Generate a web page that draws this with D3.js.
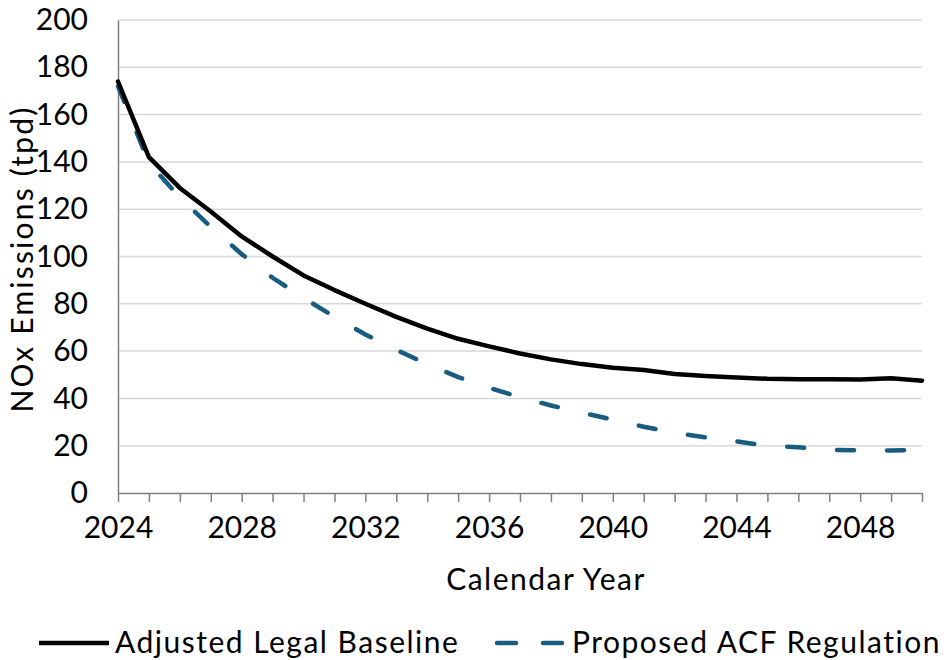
<!DOCTYPE html>
<html>
<head>
<meta charset="utf-8">
<script src="https://cdn.jsdelivr.net/npm/d3@7"></script>
<style>
  html, body { margin: 0; padding: 0; background: #fff; }
  svg { display: block; font-family: Lato, "Open Sans", sans-serif; }
</style>
</head>
<body>
<svg id="chart" width="948" height="660"></svg>
<script>
// Calendar years (categories)
const years = [2024, 2025, 2026, 2027, 2028, 2029, 2030, 2031, 2032, 2033, 2034, 2035, 2036,
  2037, 2038, 2039, 2040, 2041, 2042, 2043, 2044, 2045, 2046, 2047, 2048, 2049, 2050];

// NOx emissions, tons per day
const adjustedLegalBaseline = [174, 142, 129, 119, 108.5, 100, 92, 85.8, 80, 74.5, 69.5, 65.2, 62,
  59, 56.5, 54.5, 53, 52, 50.3, 49.5, 48.8, 48.3, 48.1, 48.1, 48, 48.5, 47.5];
const proposedACFRegulation = [172, 139.5, 125, 112.5, 101, 91, 82.5, 74.5, 67, 60.5, 54.5, 49, 44.5,
  40.5, 37, 34, 31, 28, 25.5, 23.5, 21.8, 20, 19.3, 18.3, 18, 18, 18.3];

// Axis labels
const yTicks = [0, 20, 40, 60, 80, 100, 120, 140, 160, 180, 200];
const xTickLabels = [2024, 2028, 2032, 2036, 2040, 2044, 2048];

const seriesNames = ["Adjusted Legal Baseline", "Proposed ACF Regulation"];

const svg = d3.select("#chart");
const plot = { left: 118, right: 922, top: 20, bottom: 493 };

const x = d3.scaleLinear().domain([2024, 2050]).range([plot.left, plot.right]);
const y = d3.scaleLinear().domain([0, 200]).range([plot.bottom, plot.top]);

// Horizontal gridlines
svg.append("g")
  .selectAll("line")
  .data(yTicks.filter(d => d > 0))
  .join("line")
  .attr("x1", plot.left).attr("x2", plot.right)
  .attr("y1", d => y(d)).attr("y2", d => y(d))
  .attr("stroke", "#d9d9d9")
  .attr("stroke-width", 1.5);

// Y axis
const yAxis = svg.append("g")
  .attr("transform", `translate(${plot.left},0)`)
  .call(d3.axisLeft(y).tickValues(yTicks).tickSize(0).tickPadding(30));
yAxis.select(".domain").attr("stroke", "#7f7f7f").attr("stroke-width", 1.5);
yAxis.selectAll("text")
  .attr("font-size", 30).attr("fill", "#000")
  .attr("font-family", "Lato, sans-serif");

// X axis: a tick mark every year, a label every fourth year
const xAxis = svg.append("g")
  .attr("transform", `translate(0,${plot.bottom})`)
  .call(d3.axisBottom(x)
    .tickValues(years)
    .tickSize(9)
    .tickSizeOuter(0)
    .tickPadding(15)
    .tickFormat(d => xTickLabels.includes(d) ? String(d) : ""));
xAxis.select(".domain").attr("stroke", "#7f7f7f").attr("stroke-width", 1.5);
xAxis.selectAll(".tick line").attr("stroke", "#7f7f7f").attr("stroke-width", 1.5);
xAxis.selectAll("text")
  .attr("font-size", 30).attr("fill", "#000")
  .attr("font-family", "Lato, sans-serif");

// Axis titles
svg.append("text")
  .attr("x", 546).attr("y", 590)
  .attr("text-anchor", "middle")
  .attr("font-size", 30).attr("fill", "#000")
  .attr("letter-spacing", 1.5)
  .text("Calendar Year");

svg.append("text")
  .attr("transform", "translate(33,259) rotate(-90)")
  .attr("text-anchor", "middle")
  .attr("font-size", 30).attr("fill", "#000")
  .attr("letter-spacing", 2.2)
  .text("NOx Emissions (tpd)");

// Series lines
const line = d3.line()
  .x((d, i) => x(years[i]))
  .y(d => y(d));

svg.append("path")
  .datum(proposedACFRegulation)
  .attr("d", line)
  .attr("fill", "none")
  .attr("stroke", "#185d80")
  .attr("stroke-width", 4.5)
  .attr("stroke-linecap", "round")
  .attr("stroke-dasharray", "17,33");

svg.append("path")
  .datum(adjustedLegalBaseline)
  .attr("d", line)
  .attr("fill", "none")
  .attr("stroke", "#000")
  .attr("stroke-width", 4.5)
  .attr("stroke-linejoin", "round")
  .attr("stroke-linecap", "round");

// Legend
const legend = svg.append("g");
const legendY = 643;

legend.append("line")
  .attr("x1", 39).attr("x2", 109)
  .attr("y1", legendY).attr("y2", legendY)
  .attr("stroke", "#000").attr("stroke-width", 4.5);
legend.append("text")
  .attr("x", 115).attr("y", 653)
  .attr("font-size", 30).attr("fill", "#000")
  .attr("letter-spacing", 1.5)
  .text(seriesNames[0]);

legend.append("line")
  .attr("x1", 497).attr("x2", 564)
  .attr("y1", legendY).attr("y2", legendY)
  .attr("stroke", "#185d80").attr("stroke-width", 4.5)
  .attr("stroke-linecap", "round")
  .attr("stroke-dasharray", "19,27");
legend.append("text")
  .attr("x", 572).attr("y", 653)
  .attr("font-size", 30).attr("fill", "#000")
  .attr("letter-spacing", 1.5)
  .text(seriesNames[1]);
</script>
</body>
</html>
